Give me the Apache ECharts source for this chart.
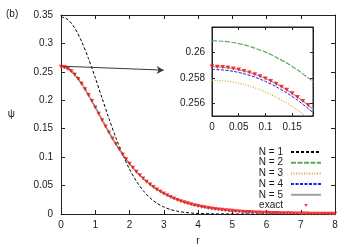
<!DOCTYPE html>
<html>
<head>
<meta charset="utf-8">
<script src="https://cdn.jsdelivr.net/npm/echarts@6/dist/echarts.min.js"></script>
<style>
html,body{margin:0;padding:0;background:#fff;}
#c{width:353px;height:247px;}
</style>
</head>
<body>
<div id="c"></div>
<script>
// ---------- data ----------
const seriesNames = ['N = 1', 'N = 2', 'N = 3', 'N = 4', 'N = 5', 'exact'];

const rLine = [0,0.2,0.4,0.6,0.8,1.0,1.2,1.4,1.6,1.8,2.0,2.2,2.4,2.6,2.8,3.0,3.2,3.4,3.6,3.8,
  4.0,4.2,4.4,4.6,4.8,5.0,5.2,5.4,5.6,5.8,6.0,6.2,6.4,6.6,6.8,7.0,7.2,7.4,7.6,7.8,8.0];

const psiN1 = [0.347,0.3419,0.3270,0.3037,0.2737,0.2397,0.2037,0.1680,0.1345,0.1045,0.0789,0.0578,
  0.0411,0.0284,0.0190,0.0124,0.0078,0.0048,0.0029,0.0017,0.0009,0.0005,0.0003,0.0001,0.0001,
  0,0,0,0,0,0,0,0,0,0,0,0,0,0,0,0];
const psiN2 = [0.2609,0.2574,0.2470,0.2310,0.2111,0.1891,0.1665,0.1446,0.1240,0.1054,0.0890,0.0747,
  0.0625,0.0521,0.0433,0.0360,0.0299,0.0248,0.0205,0.0170,0.0141,0.0117,0.0096,0.0080,0.0066,
  0.0055,0.0045,0.0037,0.0031,0.0026,0.0021,0.0017,0.0014,0.0012,0.0010,0.0008,0.0007,0.0006,0.0005,0.0004,0.0003];
const psiN3 = [0.2578,0.2543,0.2441,0.2283,0.2087,0.1870,0.1647,0.1431,0.1229,0.1046,0.0885,0.0744,
  0.0623,0.0520,0.0433,0.0360,0.0299,0.0248,0.0205,0.0170,0.0141,0.0117,0.0096,0.0080,0.0066,
  0.0055,0.0045,0.0037,0.0031,0.0026,0.0021,0.0017,0.0014,0.0012,0.0010,0.0008,0.0007,0.0006,0.0005,0.0004,0.0003];
const psiN4 = [0.2587,0.2551,0.2448,0.2289,0.2093,0.1874,0.1650,0.1433,0.1230,0.1047,0.0885,0.0744,
  0.0623,0.0520,0.0433,0.0360,0.0299,0.0248,0.0205,0.0170,0.0141,0.0117,0.0096,0.0080,0.0066,
  0.0055,0.0045,0.0037,0.0031,0.0026,0.0021,0.0017,0.0014,0.0012,0.0010,0.0008,0.0007,0.0006,0.0005,0.0004,0.0003];
const psiN5 = [0.2589,0.2553,0.2450,0.2291,0.2094,0.1875,0.1651,0.1434,0.1231,0.1047,0.0885,0.0744,
  0.0623,0.0520,0.0433,0.0360,0.0299,0.0248,0.0205,0.0170,0.0141,0.0117,0.0096,0.0080,0.0066,
  0.0055,0.0045,0.0037,0.0031,0.0026,0.0021,0.0017,0.0014,0.0012,0.0010,0.0008,0.0007,0.0006,0.0005,0.0004,0.0003];

const rExact = [0,0.1,0.2,0.3,0.4,0.5,0.6,0.7,0.8,0.9,1.0,1.1,1.2,1.3,1.4,1.5,1.6,1.7,1.8,1.9,
  2.0,2.1,2.2,2.3,2.4,2.5,2.6,2.7,2.8,2.9,3.0,3.1,3.2,3.3,3.4,3.5,3.6,3.7,3.8,3.9,
  4.0,4.1,4.2,4.3,4.4,4.5,4.6,4.7,4.8,4.9,5.0,5.1,5.2,5.3,5.4,5.5,5.6,5.7,5.8,5.9,
  6.0,6.1,6.2,6.3,6.4,6.5,6.6,6.7,6.8,6.9,7.0,7.1,7.2,7.3,7.4,7.5,7.6,7.7,7.8,7.9,8.0];
const psiExact = [0.2589,0.2580,0.2553,0.2509,0.2450,0.2376,0.2291,0.2196,0.2094,0.1986,
  0.1875,0.1763,0.1651,0.1541,0.1434,0.1330,0.1231,0.1137,0.1047,0.0964,
  0.0885,0.0812,0.0744,0.0681,0.0623,0.0569,0.0520,0.0475,0.0433,0.0395,
  0.0360,0.0328,0.0299,0.0272,0.0248,0.0226,0.0205,0.0187,0.0170,0.0155,
  0.0141,0.0128,0.0117,0.0106,0.0096,0.0088,0.0080,0.0073,0.0066,0.0060,
  0.0055,0.0050,0.0045,0.0041,0.0037,0.0034,0.0031,0.0028,0.0026,0.0023,
  0.0021,0.0019,0.0017,0.0016,0.0014,0.0013,0.0012,0.0011,0.0010,0.0009,
  0.0008,0.0007,0.0007,0.0006,0.0006,0.0005,0.0005,0.0004,0.0004,0.0004,0.0003];

// inset
const rInsetLine = [0,0.02,0.04,0.06,0.08,0.10,0.12,0.14,0.16,0.18,0.19];
const insetN2 = [0.26092,0.26088,0.26078,0.26060,0.26034,0.26002,0.25962,0.25916,0.25862,0.25800,0.25767];
const insetN3 = [0.25781,0.25777,0.25766,0.25748,0.25722,0.25689,0.25648,0.25601,0.25546,0.25483,0.25449];
const insetN4 = [0.25866,0.25862,0.25851,0.25832,0.25806,0.25772,0.25730,0.25681,0.25624,0.25559,0.25523];
const insetN5 = [0.25888,0.25884,0.25873,0.25854,0.25828,0.25795,0.25753,0.25705,0.25649,0.25585,0.25550];
const rInsetExact = [0,0.01,0.02,0.03,0.04,0.05,0.06,0.07,0.08,0.09,0.10,0.11,0.12,0.13,0.14,0.15,0.16,0.17,0.18];
const insetExact = [0.25888,0.25887,0.25884,0.25880,0.25873,0.25865,0.25854,0.25842,0.25828,0.25812,
  0.25795,0.25775,0.25753,0.25730,0.25705,0.25678,0.25649,0.25618,0.25585];

const insetXTicks = [0,0.05,0.1,0.15];
const insetYTicks = [0.256,0.258,0.26];
const arrowStart = [0, 0.26];
const arrowEnd = [3.0, 0.253];

// ---------- styles ----------
const FONT = 'Liberation Sans';
const TXT = '#1a1a1a';
const AX = '#222';
const colors = ['#000000','#5fa55f','#d9a136','#1a1aff','#a0a0a0','#ff0000'];
const dashes = [[3,2],[5,1.5],[1,1.6],[3,1.5],'solid'];
const widths = [1,1.2,1.2,1,1.2];
const triPath = 'path://M0,0L10,0L5,8.66Z';

function pairs(xs, ys){ return ys.map((v,i)=>[xs[i], v]); }

const chart = echarts.init(document.getElementById('c'), null, {renderer:'canvas'});

const lbl = {fontFamily: FONT, fontSize: 10, color: TXT};
const mainLines = [psiN1, psiN2, psiN3, psiN4, psiN5];
const insetLines = [null, insetN2, insetN3, insetN4, insetN5];

const series = [];
mainLines.forEach((arr, k) => {
  series.push({
    name: seriesNames[k], type: 'line', xAxisIndex: 0, yAxisIndex: 0,
    data: pairs(rLine, arr), smooth: 0.3, symbol: 'none', silent: true,
    lineStyle: {color: colors[k], width: widths[k], type: dashes[k]},
    itemStyle: {color: colors[k]}, z: 2 + k
  });
});
series.push({
  name: 'exact', type: 'scatter', xAxisIndex: 0, yAxisIndex: 0,
  data: pairs(rExact, psiExact), symbol: triPath, symbolSize: [4.4, 4],
  itemStyle: {color: colors[5]}, silent: true, z: 10
});
// arrow
series.push({
  name: 'arrow', type: 'line', xAxisIndex: 0, yAxisIndex: 0, data: [], silent: true,
  markLine: {
    silent: true, symbol: ['none','arrow'], symbolSize: [6, 7],
    label: {show: false},
    lineStyle: {color: '#3a3a3a', width: 1, type: 'solid'},
    emphasis: {disabled: true},
    data: [[{coord: arrowStart}, {coord: arrowEnd}]]
  }
});
// inset
insetLines.forEach((arr, k) => {
  if (!arr) return;
  series.push({
    name: seriesNames[k], type: 'line', xAxisIndex: 2, yAxisIndex: 2,
    data: pairs(rInsetLine, arr), smooth: 0.3, symbol: 'none', silent: true,
    lineStyle: {color: colors[k], width: widths[k], type: dashes[k]},
    z: 12 + k
  });
});
series.push({
  name: 'exact', type: 'scatter', xAxisIndex: 2, yAxisIndex: 2,
  data: pairs(rInsetExact, insetExact), symbol: triPath, symbolSize: [4.6, 4.2],
  itemStyle: {color: colors[5]}, silent: true, z: 20
});

function axisBase(extra){
  return Object.assign({
    axisLine: {show: true, onZero: false, lineStyle: {color: AX, width: 1}},
    axisTick: {show: true, inside: true, length: 4, lineStyle: {color: AX}},
    splitLine: {show: false},
    axisLabel: Object.assign({}, lbl)
  }, extra);
}

const option = {
  animation: false,
  backgroundColor: '#fff',
  title: {text: '(b)', left: 6, top: 9, padding: 0,
    textStyle: {fontFamily: FONT, fontSize: 10, fontWeight: 'normal', color: TXT}},
  legend: {
    data: seriesNames.map((n, k) => k === 5
      ? {name: n, icon: 'path://M0,0M30,8M13.2,2.5L16.8,2.5L15,5.6Z'}
      : {name: n, itemStyle: {opacity: 0, color: 'rgba(0,0,0,0)', borderWidth: 0}}),
    orient: 'vertical', align: 'right', right: 31, top: 147, padding: 0,
    itemWidth: 30, itemHeight: 8, itemGap: 0.7, symbolRotate: 0, z: 30,
    textStyle: {fontFamily: FONT, fontSize: 10, color: TXT, lineHeight: 10, padding: [0, 3, 0, 0]},
    selectedMode: false
  },
  grid: [
    {left: 61, top: 15, width: 274, height: 199, show: false, containLabel: false, outerBoundsMode: 'none'},
    {left: 212, top: 27, width: 101, height: 89, show: true, backgroundColor: '#fff', borderColor: AX, borderWidth: 1, z: 5,
      containLabel: false, outerBoundsMode: 'none'}
  ],
  xAxis: [
    axisBase({type: 'value', gridIndex: 0, min: 0, max: 8, interval: 1, position: 'bottom',
      name: 'r', nameLocation: 'middle', nameGap: 22, nameTextStyle: Object.assign({}, lbl),
      axisLabel: Object.assign({margin: 6}, lbl)}),
    axisBase({type: 'value', gridIndex: 0, min: 0, max: 8, interval: 1, position: 'top',
      axisLabel: {show: false}}),
    axisBase({type: 'value', gridIndex: 1, min: 0, max: 0.189, position: 'bottom', z: 6,
      axisTick: {show: true, inside: true, length: 3, lineStyle: {color: AX}, customValues: insetXTicks},
      axisLabel: Object.assign({margin: 6, customValues: insetXTicks}, lbl)}),
    axisBase({type: 'value', gridIndex: 1, min: 0, max: 0.189, position: 'top', z: 6,
      axisTick: {show: true, inside: true, length: 3, lineStyle: {color: AX}, customValues: insetXTicks},
      axisLabel: {show: false, customValues: insetXTicks}})
  ],
  yAxis: [
    axisBase({type: 'value', gridIndex: 0, min: 0, max: 0.35, interval: 0.05, position: 'left',
      name: 'ψ', nameLocation: 'middle', nameRotate: 0, nameGap: 46,
      nameTextStyle: Object.assign({}, lbl, {padding: [7, 0, 0, 0]}),
      axisLabel: Object.assign({margin: 8}, lbl)}),
    axisBase({type: 'value', gridIndex: 0, min: 0, max: 0.35, interval: 0.05, position: 'right',
      axisLabel: {show: false}}),
    axisBase({type: 'value', gridIndex: 1, min: 0.255, max: 0.262, position: 'left', z: 6,
      axisTick: {show: true, inside: true, length: 3, lineStyle: {color: AX}, customValues: insetYTicks},
      axisLabel: Object.assign({margin: 7, customValues: insetYTicks}, lbl)}),
    axisBase({type: 'value', gridIndex: 1, min: 0.255, max: 0.262, position: 'right', z: 6,
      axisTick: {show: true, inside: true, length: 3, lineStyle: {color: AX}, customValues: insetYTicks},
      axisLabel: {show: false, customValues: insetYTicks}})
  ],
  series: series
};
chart.setOption(option);
</script>
</body>
</html>
